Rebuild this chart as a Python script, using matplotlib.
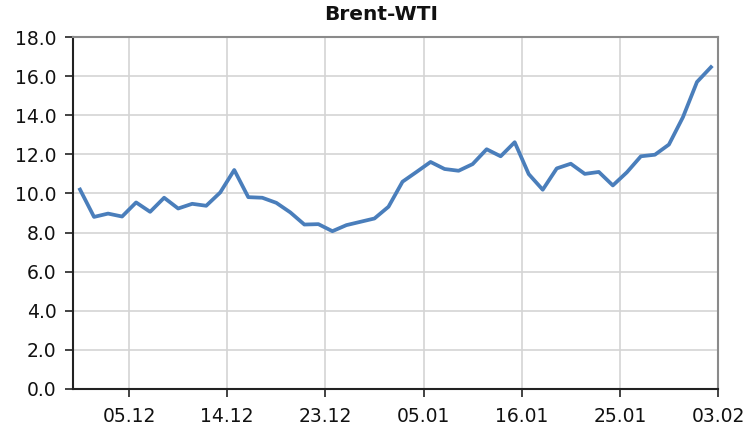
import matplotlib
matplotlib.use("Agg")
import matplotlib.pyplot as plt
import numpy as np

values = [10.2, 8.8, 8.97, 8.82, 9.54, 9.06, 9.78, 9.23, 9.47, 9.37,
          10.05, 11.2, 9.81, 9.78, 9.52, 9.03, 8.41, 8.43, 8.07, 8.38,
          8.55, 8.72, 9.32, 10.6, 11.1, 11.61, 11.25, 11.16, 11.5, 12.26,
          11.9, 12.62, 10.99, 10.19, 11.28, 11.52, 11.0, 11.1, 10.41, 11.08,
          11.9, 11.98, 12.5, 13.9, 15.7, 16.46]
tick_labels = ["05.12", "14.12", "23.12", "05.01", "16.01", "25.01", "03.02"]
tick_cats = [4, 11, 18, 25, 32, 39, 46]

fig = plt.figure(figsize=(7.56, 4.28), dpi=100)
ax = fig.add_axes([73/756, 39/428, 645/756, 352/428])

x = np.arange(len(values))
ax.plot(x, values, color="#4a7ebb", linewidth=2.7, solid_joinstyle="round", zorder=3)

ax.set_xlim(-0.5, len(values) - 0.5)
ax.set_ylim(0, 18)
ax.set_yticks(np.arange(0, 18.1, 2))
ax.set_yticklabels([f"{v:.1f}" for v in np.arange(0, 18.1, 2)])
ax.set_xticks([c - 0.5 for c in tick_cats])
ax.set_xticklabels(tick_labels)

ax.grid(True, color="#d4d4d4", linewidth=1.2, zorder=0)
ax.set_axisbelow(True)

for side in ["top", "right"]:
    ax.spines[side].set_color("#8a8a8a")
    ax.spines[side].set_linewidth(1.5)
for side in ["left", "bottom"]:
    ax.spines[side].set_color("#222222")
    ax.spines[side].set_linewidth(1.5)

ax.tick_params(axis="both", direction="out", length=6, width=1.2, color="#222222",
               labelsize=13.5, labelcolor="#111111")
ax.tick_params(axis="y", pad=6)
ax.tick_params(axis="x", pad=7)

fig.text(381/756, 1 - 15/428, "Brent-WTI", fontsize=14.5, fontweight="bold",
         ha="center", va="center", color="#111111")

fig.savefig("out.png", dpi=100)
